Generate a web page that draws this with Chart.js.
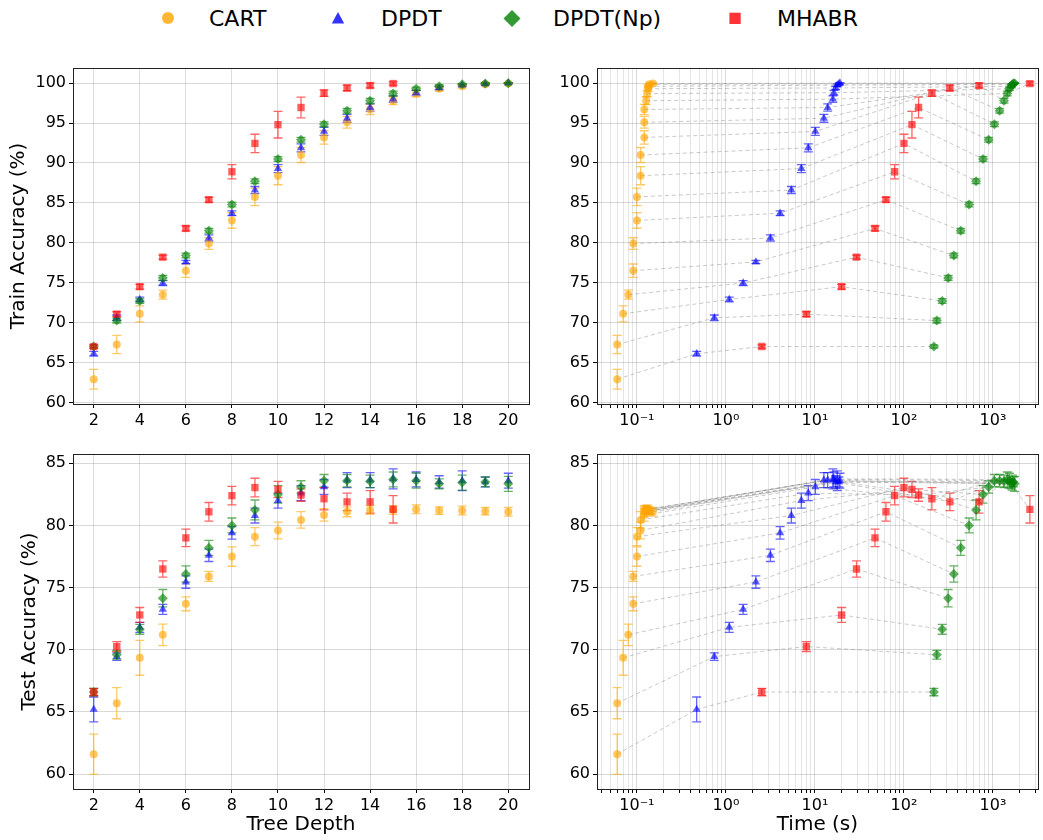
<!DOCTYPE html>
<html>
<head>
<meta charset="utf-8">
<script src="https://cdn.jsdelivr.net/npm/chart.js@4/dist/chart.umd.min.js"></script>
<style>
body { margin: 0; background: #fff; font-family: 'DejaVu Sans', sans-serif; }
#wrap { position: relative; width: 1043px; height: 840px; overflow: hidden; }
canvas { position: absolute; }
.lg { position: absolute; top: 8px; font-size: 22px; line-height: 22px; color: #000; white-space: nowrap; }
</style>
</head>
<body>
<div id="wrap">
  <svg style="position:absolute;left:0;top:0" width="1043" height="40">
    <circle cx="168" cy="18" r="6" fill="rgba(255,165,0,0.8)"/>
    <polygon points="338,12 344.2,23.5 331.8,23.5" fill="rgba(0,0,255,0.8)"/>
    <polygon points="512,10 520.5,18.5 512,27 503.5,18.5" fill="rgba(0,128,0,0.8)"/>
    <rect x="729.4" y="12.7" width="11.3" height="11.3" fill="rgba(255,0,0,0.8)"/>
  </svg>
  <div class="lg" style="left:209px">CART</div>
  <div class="lg" style="left:381px">DPDT</div>
  <div class="lg" style="left:553px">DPDT(Np)</div>
  <div class="lg" style="left:777px">MHABR</div>
</div>
<script>
// tree depths
const depths = [2, 3, 4, 5, 6, 7, 8, 9, 10, 11, 12, 13, 14, 15, 16, 17, 18, 19, 20];
const mhabrDepths = [2, 3, 4, 5, 6, 7, 8, 9, 10, 11, 12, 13, 14, 15];

// CART
const cartTime = [0.060, 0.060, 0.070, 0.080, 0.091, 0.091, 0.100, 0.100, 0.110, 0.110, 0.121, 0.121, 0.121, 0.127, 0.130, 0.134, 0.134, 0.138, 0.151];
const cartTrain = [62.9, 67.25, 71.1, 73.5, 76.5, 79.9, 82.8, 85.75, 88.4, 91.0, 93.2, 95.1, 96.7, 97.8, 98.7, 99.3, 99.6, 99.85, 99.95];
const cartTrainErr = [1.24, 1.15, 1.0, 0.57, 0.84, 0.73, 0.98, 1.09, 1.13, 0.94, 0.84, 0.73, 0.65, 0.5, 0.4, 0.3, 0.2, 0.15, 0.1];
const cartTest = [61.6, 65.7, 69.35, 71.2, 73.7, 75.9, 77.5, 79.1, 79.6, 80.45, 80.85, 81.1, 81.25, 81.25, 81.3, 81.2, 81.2, 81.15, 81.1];
const cartTestErr = [1.62, 1.25, 1.4, 0.87, 0.56, 0.4, 0.78, 0.72, 0.67, 0.66, 0.5, 0.4, 0.35, 0.35, 0.35, 0.3, 0.35, 0.3, 0.35];

// DPDT
const dpdtTime = [0.469, 0.74, 1.09, 1.56, 2.17, 3.16, 4.06, 5.43, 7.03, 8.42, 10.1, 12.6, 13.9, 15.9, 16.3, 17.1, 17.8, 18.6, 19.1];
const dpdtTrain = [66.1, 70.6, 72.9, 74.95, 77.6, 80.6, 83.7, 86.6, 89.3, 91.9, 93.95, 95.6, 96.95, 98.0, 98.8, 99.4, 99.75, 99.9, 100.0];
const dpdtTrainErr = [0.3, 0.35, 0.3, 0.3, 0.2, 0.4, 0.3, 0.45, 0.5, 0.5, 0.5, 0.5, 0.45, 0.4, 0.3, 0.2, 0.15, 0.1, 0.05];
const dpdtTest = [65.2, 69.45, 71.8, 73.25, 75.45, 77.6, 79.4, 80.8, 82.0, 82.6, 83.1, 83.65, 83.65, 83.75, 83.7, 83.5, 83.6, 83.5, 83.6];
const dpdtTestErr = [1.0, 0.3, 0.4, 0.4, 0.5, 0.5, 0.5, 0.6, 0.6, 0.6, 0.6, 0.6, 0.6, 0.8, 0.6, 0.5, 0.8, 0.4, 0.6];

// DPDT(Np)
const npTime = [217, 234, 269, 314, 363, 435, 539, 646, 774, 895, 1037, 1189, 1331, 1449, 1527, 1607, 1650, 1700, 1750];
const npTrain = [67.0, 70.25, 72.7, 75.6, 78.4, 81.5, 84.8, 87.7, 90.5, 92.9, 94.85, 96.55, 97.8, 98.7, 99.3, 99.6, 99.85, 99.95, 100.0];
const npTrainErr = [0.2, 0.3, 0.3, 0.3, 0.3, 0.3, 0.3, 0.3, 0.3, 0.3, 0.3, 0.3, 0.3, 0.3, 0.2, 0.2, 0.1, 0.1, 0.05];
const npTest = [66.6, 69.6, 71.65, 74.15, 76.1, 78.2, 80.0, 81.25, 82.5, 83.1, 83.6, 83.6, 83.55, 83.7, 83.6, 83.35, 83.45, 83.5, 83.35];
const npTestErr = [0.3, 0.35, 0.4, 0.7, 0.65, 0.6, 0.6, 0.8, 0.7, 0.5, 0.5, 0.5, 0.5, 0.6, 0.6, 0.4, 0.6, 0.4, 0.6];

// MHABR
const mhabrTime = [2.53, 8.0, 19.9, 29.3, 47.3, 62.8, 78.6, 100, 123, 146, 206, 328, 698, 2600];
const mhabrTrain = [67.0, 71.06, 74.5, 78.2, 81.8, 85.4, 88.9, 92.45, 94.8, 96.95, 98.75, 99.4, 99.7, 99.95];
const mhabrTrainErr = [0.2, 0.3, 0.3, 0.25, 0.3, 0.3, 0.9, 1.15, 1.67, 1.3, 0.4, 0.35, 0.3, 0.2];
const mhabrTest = [66.6, 70.26, 72.8, 76.5, 79.0, 81.1, 82.4, 83.05, 82.9, 82.45, 82.15, 81.9, 81.9, 81.3];
const mhabrTestErr = [0.3, 0.4, 0.6, 0.65, 0.7, 0.75, 0.75, 0.75, 0.65, 0.5, 0.9, 0.7, 0.9, 1.1];

// axis ticks
const depthTicks = [2, 4, 6, 8, 10, 12, 14, 16, 18, 20];
const trainTicks = [60, 65, 70, 75, 80, 85, 90, 95, 100];
const testTicks = [60, 65, 70, 75, 80, 85];
const decades = [0.01, 0.1, 1, 10, 100, 1000];
const decadeLabels = ['10⁻²', '10⁻¹', '10⁰', '10¹', '10²', '10³'];

const FAMILY = 'DejaVu Sans';
const tickFont = { family: FAMILY, size: 16 };
const titleFont = { family: FAMILY, size: 20 };
const TIME_MIN = 0.0356, TIME_MAX = 3190;

const logTicks = [];
decades.forEach(d => {
    for (let m = 1; m <= 9; m++) {
        const v = Number((m * d).toPrecision(6));
        if (v >= TIME_MIN && v <= TIME_MAX) logTicks.push(v);
    }
});

const series = [
    { name: 'CART', style: 'circle', r: 4, rgb: '255,165,0', order: 4, depth: depths, time: cartTime,
      train: cartTrain, trainErr: cartTrainErr, test: cartTest, testErr: cartTestErr },
    { name: 'DPDT', style: 'triangle', r: 4.8, rgb: '0,0,255', order: 3, depth: depths, time: dpdtTime,
      train: dpdtTrain, trainErr: dpdtTrainErr, test: dpdtTest, testErr: dpdtTestErr },
    { name: 'DPDT(Np)', style: 'rectRot', r: 5, rgb: '0,128,0', order: 2, depth: depths, time: npTime,
      train: npTrain, trainErr: npTrainErr, test: npTest, testErr: npTestErr },
    { name: 'MHABR', style: 'rect', r: 5.2, rgb: '255,0,0', order: 1, depth: mhabrDepths, time: mhabrTime,
      train: mhabrTrain, trainErr: mhabrTrainErr, test: mhabrTest, testErr: mhabrTestErr }
];

function pointSets(kind, useTime) {
    return series.map(s => ({
        label: s.name,
        data: s.depth.map((d, i) => ({ x: useTime ? s.time[i] : d, y: s[kind][i] })),
        err: s[kind + 'Err'],
        errColor: 'rgba(' + s.rgb + ',0.6)',
        pointStyle: s.style,
        pointRadius: s.r,
        pointHoverRadius: s.r,
        pointBackgroundColor: 'rgba(' + s.rgb + ',0.62)',
        pointBorderWidth: 0,
        showLine: false,
        order: s.order
    }));
}

// dashed lines joining the methods at the same depth, sorted by time
function connectors(kind) {
    return depths.map(d => {
        const pts = [];
        series.forEach(s => {
            const i = s.depth.indexOf(d);
            if (i >= 0) pts.push({ x: s.time[i], y: s[kind][i] });
        });
        pts.sort((a, b) => a.x - b.x);
        return {
            data: pts, showLine: true, borderColor: 'rgba(120,120,120,0.5)', borderWidth: 0.8,
            borderDash: [4, 3], pointRadius: 0, pointHoverRadius: 0, order: 10
        };
    });
}

const errorBars = {
    id: 'errorBars',
    beforeDatasetsDraw(chart) {
        const ctx = chart.ctx, xs = chart.scales.x, ys = chart.scales.y;
        const sets = chart.data.datasets.map((ds, i) => ({ ds, i })).filter(o => o.ds.err)
            .sort((a, b) => b.ds.order - a.ds.order);
        ctx.save();
        ctx.beginPath();
        ctx.rect(chart.chartArea.left, chart.chartArea.top, chart.chartArea.width, chart.chartArea.height);
        ctx.clip();
        sets.forEach(({ ds }) => {
            ctx.strokeStyle = ds.errColor;
            ctx.lineWidth = 1.3;
            ds.data.forEach((p, j) => {
                const x = xs.getPixelForValue(p.x);
                const y1 = ys.getPixelForValue(p.y + ds.err[j]);
                const y2 = ys.getPixelForValue(p.y - ds.err[j]);
                ctx.beginPath();
                ctx.moveTo(x, y1); ctx.lineTo(x, y2);
                ctx.moveTo(x - 4.5, y1); ctx.lineTo(x + 4.5, y1);
                ctx.moveTo(x - 4.5, y2); ctx.lineTo(x + 4.5, y2);
                ctx.stroke();
            });
        });
        ctx.restore();
    }
};

const frame = {
    id: 'frame',
    afterDatasetsDraw(chart) {
        const a = chart.chartArea, ctx = chart.ctx;
        ctx.save();
        ctx.strokeStyle = '#222';
        ctx.lineWidth = 1;
        ctx.strokeRect(Math.round(a.left) + 0.5, Math.round(a.top) + 0.5,
            Math.round(a.right - a.left), Math.round(a.bottom - a.top));
        ctx.restore();
    }
};

function depthAxis(title, xh) {
    return {
        type: 'linear', min: 1.1, max: 20.9,
        afterBuildTicks: s => { s.ticks = depthTicks.map(v => ({ value: v })); },
        afterFit: s => { s.height = xh; },
        ticks: { font: tickFont, color: '#000', padding: 3, maxRotation: 0, autoSkip: false },
        grid: { color: 'rgba(0,0,0,0.13)', tickColor: '#000', tickLength: 4 },
        border: { display: false },
        title: title ? { display: true, text: title, font: titleFont, color: '#000', padding: { top: 0, bottom: 3 } } : { display: false }
    };
}

function timeAxis(title, xh) {
    return {
        type: 'logarithmic', min: TIME_MIN, max: TIME_MAX,
        afterBuildTicks: s => { s.ticks = logTicks.map(v => ({ value: v, major: decades.includes(v) })); },
        afterFit: s => { s.height = xh; },
        ticks: {
            font: tickFont, color: '#000', padding: 3, maxRotation: 0, autoSkip: false,
            callback: v => { const k = decades.indexOf(v); return k >= 0 ? decadeLabels[k] : ''; }
        },
        grid: {
            color: c => (c.tick && c.tick.major) ? 'rgba(0,0,0,0.15)' : 'rgba(0,0,0,0.1)',
            tickColor: '#000', tickLength: 4
        },
        border: { display: false },
        title: title ? { display: true, text: title, font: titleFont, color: '#000', padding: { top: 0, bottom: 3 } } : { display: false }
    };
}

function accAxis(ticks, min, max, title, yw, pad) {
    return {
        type: 'linear', min: min, max: max,
        afterBuildTicks: s => { s.ticks = ticks.map(v => ({ value: v })); },
        afterFit: s => { s.width = yw; },
        ticks: { font: tickFont, color: '#000', padding: 3 },
        grid: { color: 'rgba(0,0,0,0.15)', tickColor: '#000', tickLength: 4 },
        border: { display: false },
        title: title ? { display: true, text: title, font: titleFont, color: '#000', padding: { top: pad, bottom: 0 } } : { display: false }
    };
}

function makeChart(box, datasets, xAxis, yAxis) {
    const c = document.createElement('canvas');
    c.width = box.w; c.height = box.h;
    c.style.left = box.x + 'px'; c.style.top = box.y + 'px';
    c.style.width = box.w + 'px'; c.style.height = box.h + 'px';
    document.getElementById('wrap').appendChild(c);
    return new Chart(c, {
        type: 'scatter',
        data: { datasets: datasets },
        options: {
            responsive: false, animation: false, devicePixelRatio: 1, events: [],
            layout: { padding: box.pad },
            scales: { x: xAxis, y: yAxis },
            plugins: { legend: { display: false }, tooltip: { enabled: false } }
        },
        plugins: [errorBars, frame]
    });
}

makeChart({ x: 0, y: 40, w: 540, h: 400, pad: { left: 0, top: 28, right: 11, bottom: 0 } },
    pointSets('train', false), depthAxis(null, 36),
    accAxis(trainTicks, 59.8, 101.9, 'Train Accuracy (%)', 73, 7));

makeChart({ x: 540, y: 40, w: 503, h: 400, pad: { left: 0, top: 28, right: 4, bottom: 0 } },
    pointSets('train', true).concat(connectors('train')), timeAxis(null, 36),
    accAxis(trainTicks, 59.8, 101.9, null, 57, 0));

makeChart({ x: 0, y: 440, w: 540, h: 400, pad: { left: 0, top: 14, right: 11, bottom: 0 } },
    pointSets('test', false), depthAxis('Tree Depth', 51),
    accAxis(testTicks, 58.8, 85.75, 'Test Accuracy (%)', 73, 18));

makeChart({ x: 540, y: 440, w: 503, h: 400, pad: { left: 0, top: 14, right: 4, bottom: 0 } },
    pointSets('test', true).concat(connectors('test')), timeAxis('Time (s)', 51),
    accAxis(testTicks, 58.8, 85.75, null, 57, 0));
</script>
</body>
</html>
